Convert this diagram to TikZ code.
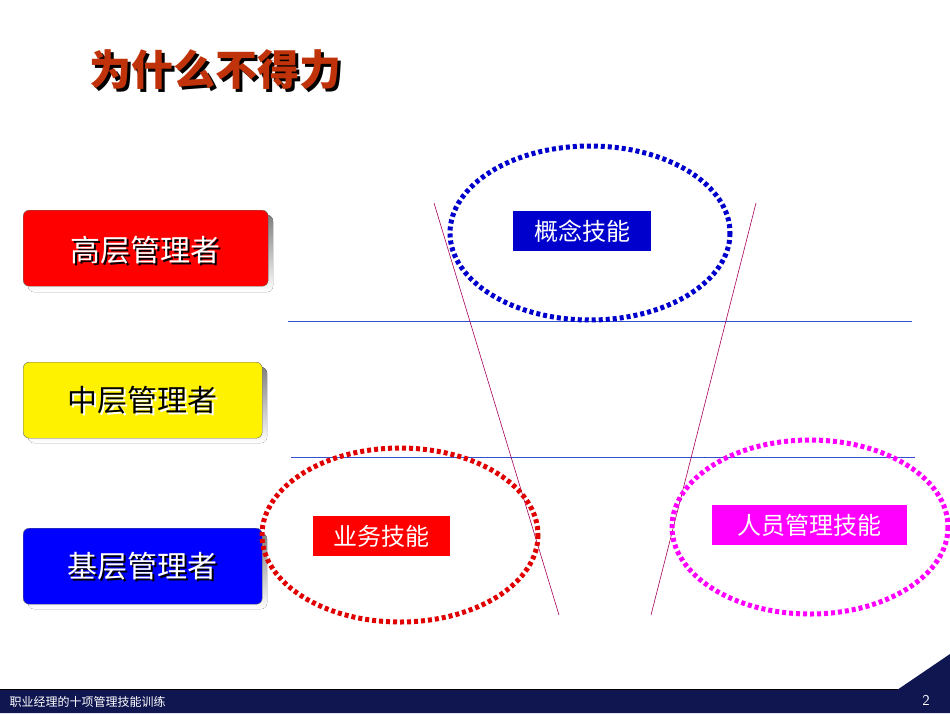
\documentclass[tikz,border=0pt]{standalone}
\usepackage{fontspec}
\newfontfamily\cjk{Noto Sans CJK SC}
\definecolor{navy}{HTML}{0F1650}
\definecolor{titlec}{HTML}{C0330A}
\definecolor{shade}{HTML}{A9AEDC}
\definecolor{mag}{HTML}{FF00FF}
\definecolor{lred}{HTML}{E00000}
\definecolor{divc}{HTML}{3050D0}
\begin{document}
\begin{tikzpicture}[x=1pt,y=-1pt,
  level/.style={draw=black!60,rounded corners=6pt,minimum width=#1,minimum height=76pt,inner sep=0pt},
  lbl/.style={inner sep=0pt,minimum height=40pt,font=\cjk\fontsize{24}{24}\selectfont,text=white},
  ring/.style={line width=5pt,dash pattern=on 4pt off 3pt},
  divider/.style={draw=divc,line width=0.8pt},
  slant/.style={draw=violet!70!red,line width=0.6pt}]
\useasboundingbox (0,0) rectangle (950,713);
% title
\node[font=\cjk\bfseries\fontsize{42}{42}\selectfont,text=black] at (218,73) {为什么不得力};
\node[font=\cjk\bfseries\fontsize{42}{42}\selectfont,text=titlec] (title) at (215,70) {为什么不得力};
% level boxes
\fill[shade,rounded corners=6pt] (28,215) rectangle (273,292);
\node[level=245pt,fill=red,anchor=north west] (top) at (23,210) {};
\node[font=\cjk\fontsize{30}{30}\selectfont,text=black] at (147,252) {高层管理者};
\node[font=\cjk\fontsize{30}{30}\selectfont,text=white] at (145,250) {高层管理者};
\fill[shade,rounded corners=6pt] (28,367) rectangle (267,443);
\node[level=239pt,fill=yellow,anchor=north west] (mid) at (23,362) {};
\node[font=\cjk\fontsize{30}{30}\selectfont,text=white] at (144,402) {中层管理者};
\node[font=\cjk\fontsize{30}{30}\selectfont,text=black] at (142,400) {中层管理者};
\fill[shade,rounded corners=6pt] (28,533) rectangle (267,609);
\node[level=239pt,fill=blue,anchor=north west] (low) at (23,528) {};
\node[font=\cjk\fontsize{30}{30}\selectfont,text=black] at (144,568) {基层管理者};
\node[font=\cjk\fontsize{30}{30}\selectfont,text=white] at (142,566) {基层管理者};
% dividers and funnel
\draw[divider] (288,321) -- (912,321);
\draw[divider] (291,457) -- (915,457);
\draw[slant] (434,203) -- (559,615);
\draw[slant] (756,203) -- (651,615);
% rings
\draw[ring,blue!80!black] (590,233) ellipse [x radius=140,y radius=87];
\draw[ring,lred] (400,535) ellipse [x radius=138,y radius=87];
\draw[ring,mag] (810,527) ellipse [x radius=138,y radius=87];
\node[lbl,fill=blue!80!black,minimum width=138pt] (concept) at (582,231) {概念技能};
\node[lbl,fill=red,minimum width=137pt] (biz) at (381,536) {业务技能};
\node[lbl,fill=mag,minimum width=195pt] (people) at (809,525) {人员管理技能};
% footer
\draw[shade,line width=1pt] (0,689) -- (950,689);
\fill[navy] (0,690) -- (897,690) -- (950,654) -- (950,713) -- (0,713) -- cycle;
\node[font=\cjk\fontsize{12}{12}\selectfont,text=white,anchor=west] (foot) at (6,702) {职业经理的十项管理技能训练};
\node[font=\sffamily\fontsize{15}{15}\selectfont,text=white] (page) at (926,700) {2};
\end{tikzpicture}
\end{document}
